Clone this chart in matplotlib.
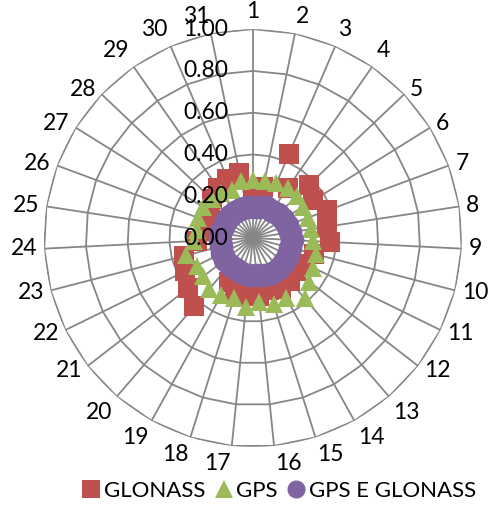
# radar chart - GLONASS / GPS / GPS E GLONASS
import numpy as np
import matplotlib
matplotlib.use("Agg")
import matplotlib.pyplot as plt
from matplotlib.lines import Line2D
from matplotlib import transforms

plt.rcParams['font.family'] = ['Lato', 'DejaVu Sans']

categories = [str(i) for i in range(1, 32)]

glonass = [0.22, 0.25, 0.44, 0.29, 0.37, 0.34, 0.38, 0.36, 0.37, 0.30,
           0.28, 0.26, 0.27, 0.28, 0.26, 0.28, 0.28, 0.28, 0.24, 0.43,
           0.39, 0.36, 0.34, 0.27, 0.22, 0.24, 0.24, 0.27, 0.29, 0.31,
           0.32]

gps = [0.28, 0.28, 0.285, 0.29, 0.29, 0.28, 0.28, 0.28, 0.29, 0.31,
       0.32, 0.34, 0.38, 0.33, 0.33, 0.31, 0.33, 0.30, 0.31, 0.32,
       0.30, 0.30, 0.33, 0.28, 0.27, 0.28, 0.28, 0.27, 0.265, 0.25,
       0.28]

gps_glonass = [0.15, 0.15, 0.16, 0.16, 0.165, 0.17, 0.175, 0.18, 0.185, 0.185,
               0.185, 0.19, 0.19, 0.19, 0.185, 0.18, 0.18, 0.175, 0.17, 0.17,
               0.17, 0.165, 0.16, 0.16, 0.16, 0.155, 0.15, 0.15, 0.15, 0.15,
               0.15]

r_ticks = [0.0, 0.2, 0.4, 0.6, 0.8, 1.0]
r_labels = ["0.00", "0.20", "0.40", "0.60", "0.80", "1.00"]

series_names = ["GLONASS", "GPS", "GPS E GLONASS"]
colors = ["#C0504D", "#9BBB59", "#8064A2"]
markers = ["s", "^", "o"]
sizes = [14, 13, 17]

grid_col = "#868686"
fs = 16.5

n = len(categories)
theta = np.arange(n) * 2 * np.pi / n

fig = plt.figure(figsize=(5.01, 5.09), dpi=100)
ax = fig.add_axes([0.0878, 0.1218, 0.834, 0.821], projection='polar')
ax.set_theta_zero_location('N')
ax.set_theta_direction(-1)
ax.set_ylim(0, 1.0)

# Excel style: polygon rings + spokes, drawn by hand
ax.grid(False)
ax.spines['polar'].set_visible(False)
ax.set_yticks([])
ax.set_xticks([])
th_closed = np.append(theta, theta[0])
for r in r_ticks[1:]:
    ax.plot(th_closed, [r] * (n + 1), color=grid_col, lw=1.3, zorder=1)
for t in theta:
    ax.plot([t, t], [0, 1.0], color=grid_col, lw=1.3, zorder=1)

# category labels, anchored just outside the outer ring like Excel does
gap = 7
for t, lab in zip(theta, categories):
    s, c = np.sin(t), np.cos(t)
    ha = 'left' if s > 0.1 else ('right' if s < -0.1 else 'center')
    va = 'bottom' if c > 0.75 else ('top' if c < -0.75 else 'center')
    tr = transforms.offset_copy(ax.transData, fig=fig, x=gap * s, y=gap * c, units='dots')
    ax.text(t, 1.0, lab, transform=tr, ha=ha, va=va, fontsize=fs, clip_on=False)

# radial value labels left of the first spoke
off = transforms.offset_copy(ax.transData, fig=fig, x=-25, y=0, units='dots')
for r, lab in zip(r_ticks, r_labels):
    ax.text(0, r, lab, transform=off, ha='right', va='center', fontsize=fs, zorder=5)

data = [glonass, gps, gps_glonass]
for vals, c, m, s in zip(data, colors, markers, sizes):
    ax.plot(theta, vals, linestyle='none', marker=m, markersize=s,
            color=c, markeredgewidth=0, zorder=3)

handles = [Line2D([], [], linestyle='none', marker=m, markersize=13,
                  color=c, markeredgewidth=0)
           for c, m in zip(colors, markers)]
fig.legend(handles, series_names, loc='center', bbox_to_anchor=(0.557, 0.035),
           ncol=3, frameon=False, fontsize=16, handlelength=0.8,
           handletextpad=0.15, columnspacing=0.45, borderaxespad=0)

fig.savefig("out.png", dpi=100)
